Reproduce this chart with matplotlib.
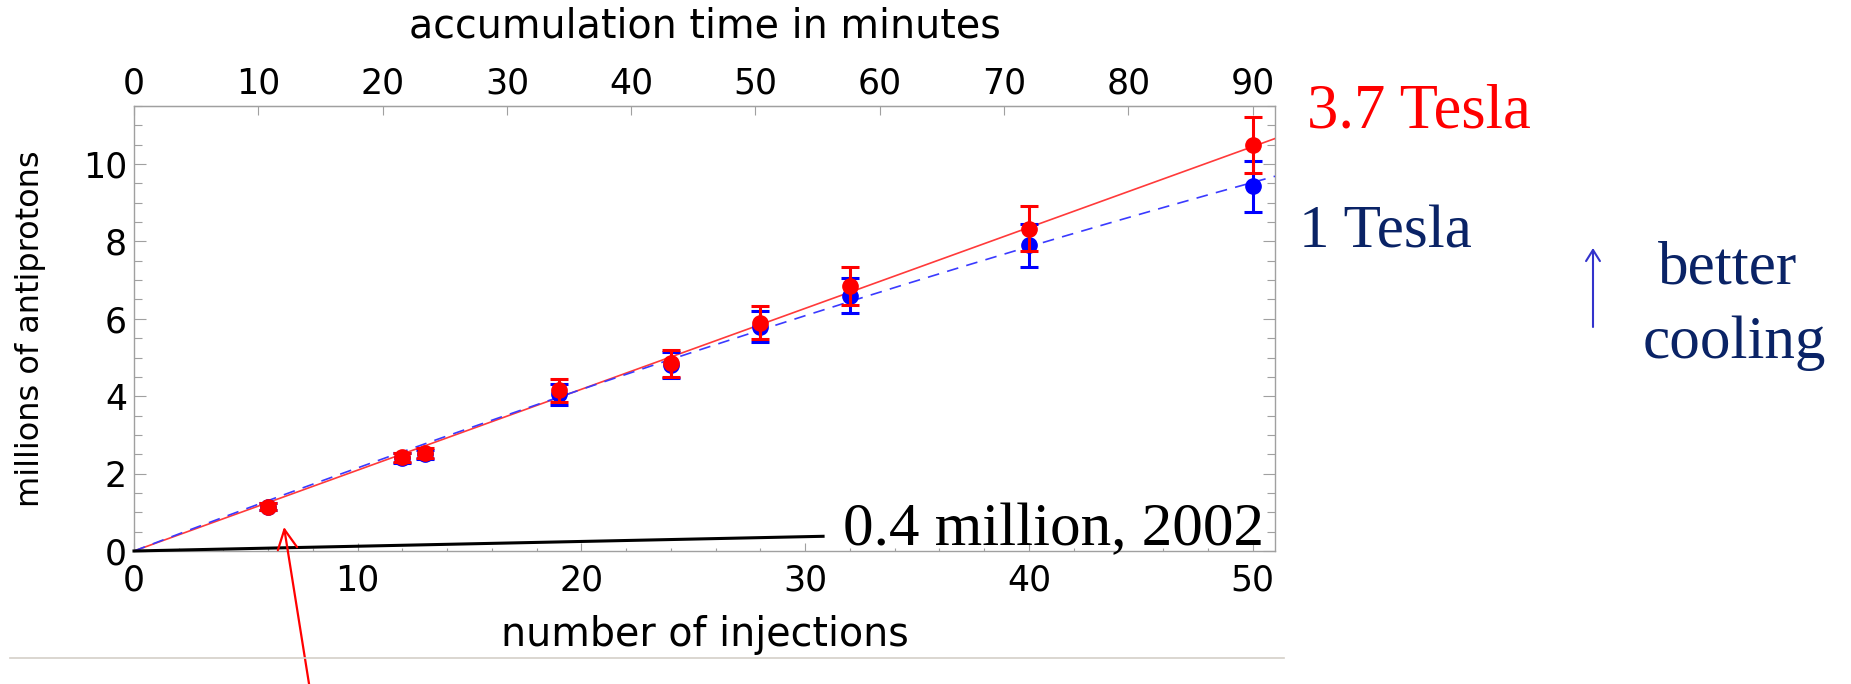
import numpy as np
import matplotlib
matplotlib.use("Agg")
import matplotlib.pyplot as plt
from matplotlib.ticker import MultipleLocator

# ---------------- data ----------------
injections = [6, 12, 13, 19, 24, 28, 32, 40, 50]
red_values = [1.15, 2.42, 2.53, 4.15, 4.85, 5.90, 6.85, 8.33, 10.50]
red_errors = [0.08, 0.12, 0.12, 0.30, 0.35, 0.42, 0.48, 0.59, 0.72]
blue_values = [1.15, 2.40, 2.50, 4.05, 4.80, 5.80, 6.60, 7.90, 9.42]
blue_errors = [0.08, 0.12, 0.12, 0.27, 0.33, 0.40, 0.46, 0.55, 0.65]
red_fit = [0.209, 0.0]        # fit coefficients (linear, quadratic), 3.7 T
blue_fit = [0.221, -0.00061]  # fit coefficients (linear, quadratic), 1 T
ref_2002 = [0.0, 30.8]        # injections
ref_2002_vals = [0.0, 0.38]   # millions
minutes_per_injection = 1.8
x_limits = [0, 51]
y_limits = [0, 11.5]
bottom_ticks = [0, 10, 20, 30, 40, 50]
top_ticks = [0, 10, 20, 30, 40, 50, 60, 70, 80, 90]
left_ticks = [0, 2, 4, 6, 8, 10]

W, H = 1851, 684
fig = plt.figure(figsize=(W / 100, H / 100), dpi=100)


def fx(x):
    return x / W


def fy(y):
    return 1 - y / H


ax = fig.add_axes([fx(134), fy(551), fx(1275) - fx(134), fy(106) - fy(551)])

SANS = ["DejaVu Sans"]
SERIF = ["Liberation Serif", "DejaVu Serif"]
GRAY = "#a0a0a0"
NAVY = "#0a2366"

# fit curves
xs = np.linspace(x_limits[0], x_limits[1], 200)
ax.plot(xs, red_fit[0] * xs + red_fit[1] * xs ** 2, color="#ff3a3a", lw=1.2, zorder=3)
ax.plot(xs, blue_fit[0] * xs + blue_fit[1] * xs ** 2, color="#3a3aff", lw=1.2,
        ls=(0, (7, 5)), zorder=3)
# 2002 reference line
ax.plot(ref_2002, ref_2002_vals, color="black", lw=2.2, zorder=3, clip_on=False)

# data points
ax.errorbar(injections, blue_values, yerr=blue_errors, fmt="o", color="#0000ff",
            ms=11, elinewidth=2.2, capsize=6.5, capthick=2.2, zorder=4)
ax.errorbar(injections, red_values, yerr=red_errors, fmt="o", color="#ff0000",
            ms=11, elinewidth=2.2, capsize=6.5, capthick=2.2, zorder=5)

ax.set_xlim(x_limits)
ax.set_ylim(y_limits)
ax.set_xticks(bottom_ticks)
ax.set_yticks(left_ticks)
ax.xaxis.set_minor_locator(MultipleLocator(2))
ax.yaxis.set_minor_locator(MultipleLocator(0.5))

for s in ax.spines.values():
    s.set_color(GRAY)
    s.set_linewidth(1.0)

ax.tick_params(axis="x", which="major", direction="in", length=6, width=0.8,
               color=GRAY, labelsize=25, pad=9, top=False)
ax.tick_params(axis="x", which="minor", direction="in", length=2.5, width=0.8,
               color=GRAY, top=False)
ax.tick_params(axis="y", which="major", direction="in", length=8.5, width=0.8,
               color=GRAY, labelsize=25, pad=5, right=True)
ax.tick_params(axis="y", which="minor", direction="in", length=5.5, width=0.8,
               color=GRAY, right=True)
for lab in ax.get_xticklabels() + ax.get_yticklabels():
    lab.set_family(SANS)

secax = ax.secondary_xaxis("top", functions=(lambda x: x * minutes_per_injection,
                                             lambda m: m / minutes_per_injection))
secax.set_xticks(top_ticks)
secax.tick_params(axis="x", which="major", direction="in", length=6.5, width=0.8,
                  color=GRAY, labelsize=25, pad=4)
secax.spines["top"].set_color(GRAY)
for lab in secax.get_xticklabels():
    lab.set_family(SANS)

# axis labels
fig.text(fx(705), fy(646), "number of injections", ha="center", va="baseline",
         fontsize=28.5, family=SANS)
fig.text(fx(705), fy(37), "accumulation time in minutes", ha="center", va="baseline",
         fontsize=28.5, family=SANS)
fig.text(fx(31), fy(329), "millions of antiprotons", ha="center", va="center",
         rotation=90, fontsize=23, family=SANS)

# annotations
fig.text(fx(843), fy(545), "0.4 million, 2002", ha="left", va="baseline",
         fontsize=44, family=SERIF, color="black")
fig.text(fx(1307), fy(127), "3.7 Tesla", ha="left", va="baseline",
         fontsize=45, family=SERIF, color="#ff0000")
fig.text(fx(1299), fy(247), "1 Tesla", ha="left", va="baseline",
         fontsize=44, family=SERIF, color=NAVY)
fig.text(fx(1658), fy(283), "better", ha="left", va="baseline",
         fontsize=44, family=SERIF, color=NAVY)
fig.text(fx(1643), fy(358), "cooling", ha="left", va="baseline",
         fontsize=44, family=SERIF, color=NAVY)

# arrows
fig.add_artist(matplotlib.patches.FancyArrowPatch(
    (fx(1593), fy(327)), (fx(1593), fy(248)), transform=fig.transFigure,
    arrowstyle="->,head_length=8,head_width=5", color="#3333cc", lw=1.5,
    shrinkA=0, shrinkB=0, mutation_scale=1))
fig.add_artist(matplotlib.patches.FancyArrowPatch(
    (fx(310), fy(690)), (fx(284), fy(527)), transform=fig.transFigure,
    arrowstyle="->,head_length=14,head_width=7", color="#ff0000", lw=1.6,
    shrinkA=0, shrinkB=0, mutation_scale=1))

# thin separator line
fig.add_artist(matplotlib.lines.Line2D([fx(10), fx(1284)], [fy(658), fy(658)],
                                       transform=fig.transFigure, color="#d4cfc8", lw=1.2))

fig.savefig("out.png", dpi=100)
